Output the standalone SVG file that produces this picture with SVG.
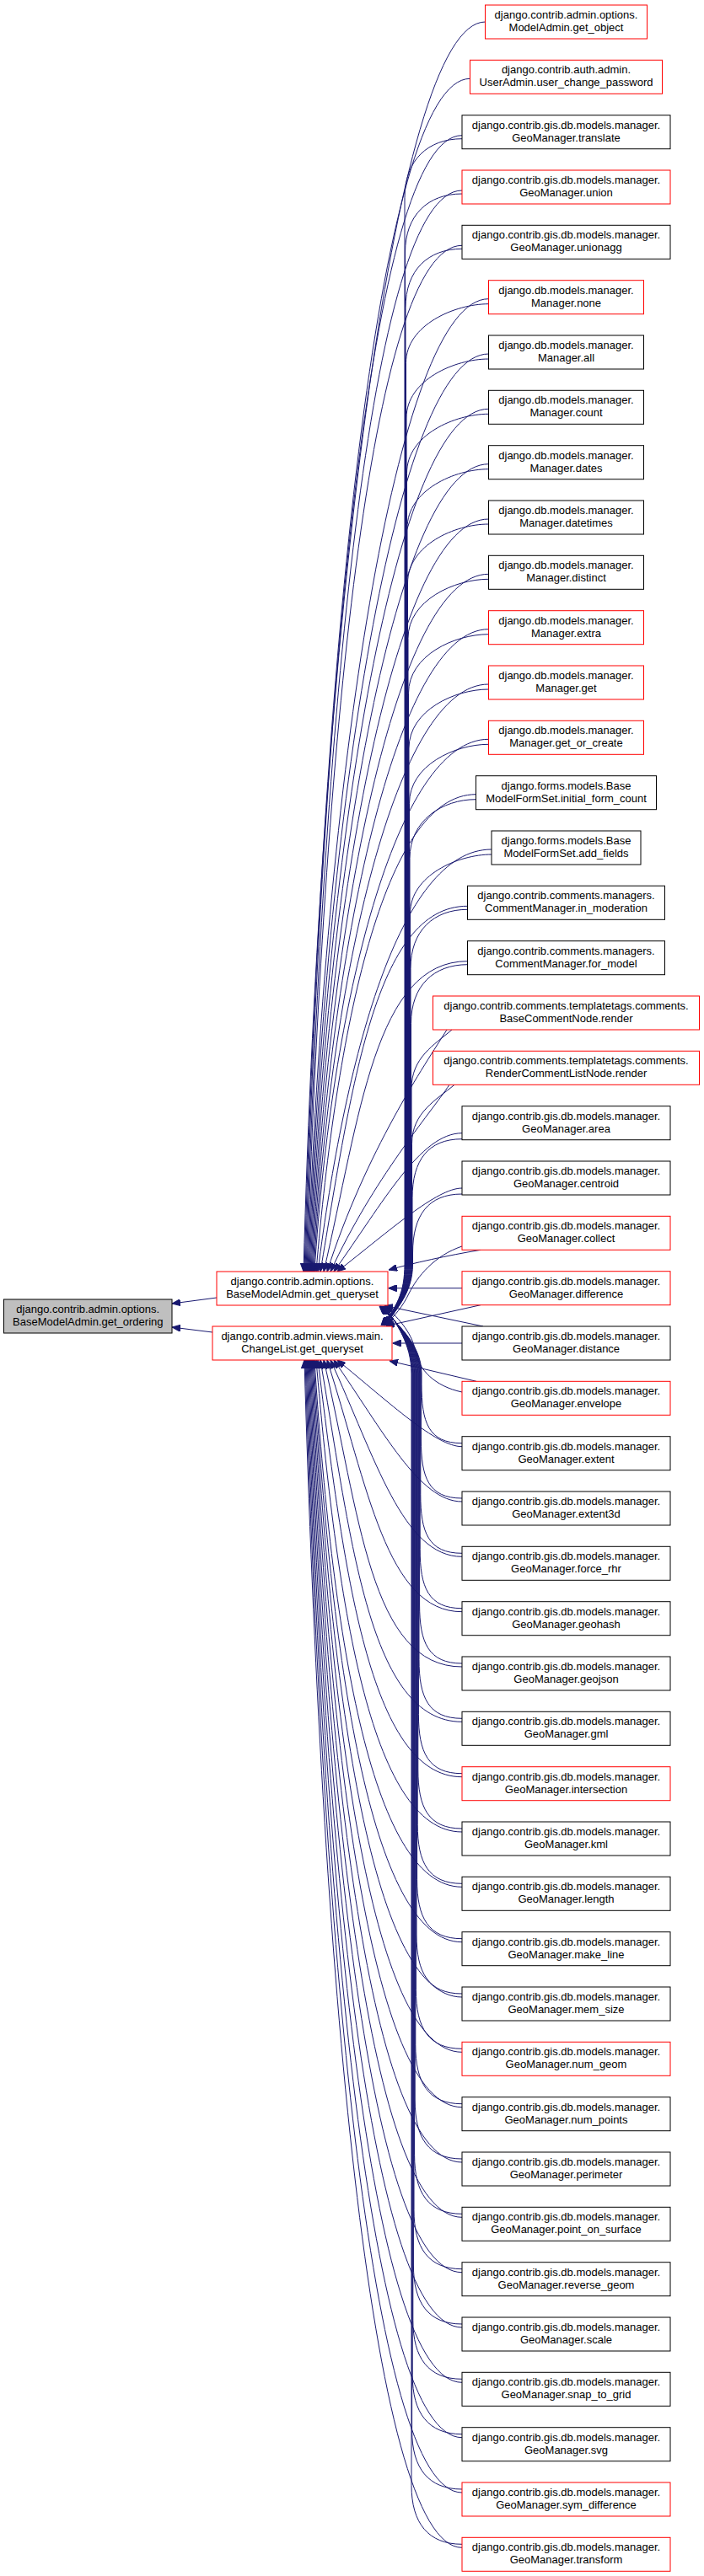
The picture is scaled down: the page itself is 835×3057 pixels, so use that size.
<svg xmlns="http://www.w3.org/2000/svg" width="835" height="3057" viewBox="0 0 835 3057">
<style>
.n rect{fill:#fff;stroke:#000;stroke-width:1}
.r rect{stroke:#ff0000}
.g rect{fill:#bfbfbf;stroke:#000}
text{font-family:"Liberation Sans",Arial,sans-serif;font-size:13px;text-anchor:middle;fill:#000}
.e path{fill:none;stroke:#191970;stroke-width:1;marker-end:url(#ah)}
</style>
<defs>
<marker id="ah" markerWidth="10" markerHeight="8" refX="10" refY="4" orient="auto" markerUnits="userSpaceOnUse"><path d="M0,0 L10,4 L0,8 z" fill="#191970" stroke="#191970" stroke-width="1"/></marker>
</defs>
<rect width="835" height="3057" fill="#fff"/>
<g id="edges" class="e">
<path d="M257,1540 L204,1547"/>
<path d="M252,1581 L204,1575"/>
<path d="M575.5,26 C465.5,26 380,767.5 360,1509"/>
<path d="M557.5,93.3 C447.5,93.3 381,801.2 361,1509"/>
<path d="M548,160.7 C438,160.7 382,834.9 362,1509"/>
<path d="M548,226 C438,226 383,867.5 363,1509"/>
<path d="M548,291.3 C438,291.3 384,900.2 364,1509"/>
<path d="M579.5,354.7 C469.5,354.7 385,931.9 365,1509"/>
<path d="M579.5,420 C469.5,420 386,964.5 366,1509"/>
<path d="M579.5,485.3 C469.5,485.3 387,997.2 367,1509"/>
<path d="M579.5,550.7 C469.5,550.7 388,1029.9 368,1509"/>
<path d="M579.5,616 C469.5,616 389,1062.5 369,1509"/>
<path d="M579.5,681.3 C469.5,681.3 390,1095.2 370,1509"/>
<path d="M579.5,746.7 C469.5,746.7 391,1127.9 371,1509"/>
<path d="M579.5,812 C469.5,812 392,1160.5 372,1509"/>
<path d="M579.5,877.3 C469.5,877.3 393,1193.2 373,1509"/>
<path d="M564.5,942.7 C454.5,942.7 398.7,1225.9 375,1509"/>
<path d="M583,1008 C473,1008 408.9,1258.5 377,1509"/>
<path d="M554.5,1075.3 C444.5,1075.3 416.9,1292.2 380,1509"/>
<path d="M554.5,1140.7 C444.5,1140.7 427,1324.9 384,1509"/>
<path d="M530,1222 C505,1262 433.9,1365.5 388,1509"/>
<path d="M533,1287.3 C510,1322 443.1,1398.2 392,1509"/>
<path d="M548,1344.7 C498.7,1344.7 454.6,1426.9 396,1509"/>
<path d="M548,1410 C518.3,1410 463.3,1459.5 400,1509"/>
<path d="M548,164.7 C508,164.7 480,189.7 480,234.7 L480,1500 C480,1535 470,1552 452,1573"/>
<path d="M548,230 C508,230 480.5,255 480.5,300 L480.5,1500 C480.5,1535 470,1552 452.3,1573"/>
<path d="M548,295.3 C508,295.3 481,320.3 481,365.3 L481,1500 C481,1535 470,1552 452.6,1573"/>
<path d="M579.5,360.7 C539.5,360.7 481.5,385.7 481.5,430.7 L481.5,1500 C481.5,1535 470,1552 452.9,1573"/>
<path d="M579.5,426 C539.5,426 482,451 482,496 L482,1500 C482,1535 470,1552 453.2,1573"/>
<path d="M579.5,491.3 C539.5,491.3 482.5,516.3 482.5,561.3 L482.5,1500 C482.5,1535 470,1552 453.5,1573"/>
<path d="M579.5,556.7 C539.5,556.7 483,581.7 483,626.7 L483,1500 C483,1535 470,1552 453.8,1573"/>
<path d="M579.5,622 C539.5,622 483.5,647 483.5,692 L483.5,1500 C483.5,1535 470,1552 454.1,1573"/>
<path d="M579.5,687.3 C539.5,687.3 484,712.3 484,757.3 L484,1500 C484,1535 470,1552 454.4,1573"/>
<path d="M579.5,752.7 C539.5,752.7 484.5,777.7 484.5,822.7 L484.5,1500 C484.5,1535 470,1552 454.7,1573"/>
<path d="M579.5,818 C539.5,818 485,843 485,888 L485,1500 C485,1535 470,1552 455,1573"/>
<path d="M579.5,883.3 C539.5,883.3 485.5,908.3 485.5,953.3 L485.5,1500 C485.5,1535 470,1552 455.3,1573"/>
<path d="M564.5,948.7 C524.5,948.7 486,973.7 486,1018.7 L486,1500 C486,1535 470,1552 455.6,1573"/>
<path d="M583,1014 C543,1014 486.5,1039 486.5,1084 L486.5,1500 C486.5,1535 470,1552 455.9,1573"/>
<path d="M554.5,1079.3 C514.5,1079.3 487,1104.3 487,1149.3 L487,1500 C487,1535 470,1552 456.2,1573"/>
<path d="M554.5,1144.7 C514.5,1144.7 487.5,1169.7 487.5,1214.7 L487.5,1500 C487.5,1535 470,1552 456.5,1573"/>
<path d="M536,1222 C515,1240 488,1255 488,1292 L488,1500 C488,1535 470,1552 456.8,1573"/>
<path d="M539,1287.3 C518,1305 488.5,1320 488.5,1357.3 L488.5,1500 C488.5,1535 470,1552 457.1,1573"/>
<path d="M548,1351.7 C508,1351.7 489,1376.7 489,1421.7 L489,1500 C489,1535 470,1552 457.4,1573"/>
<path d="M548,1417 C508,1417 489.5,1442 489.5,1487 L489.5,1500 C489.5,1535 470,1552 457.7,1573"/>
<path d="M570,1483.3 C530,1490 490,1499 461,1507"/>
<path d="M548,1479 C515,1490 495,1515 485,1535 C478,1550 468,1562 456,1573"/>
<path d="M548,1528.7 L460.5,1528.7"/>
<path d="M570,1548.7 L458,1573.5"/>
<path d="M573,1574 L456,1549.5"/>
<path d="M548,1594 L465.5,1594"/>
<path d="M565,1639.3 L462,1615"/>
<path d="M548,1652 C515,1645 497,1625 493,1605 C490,1585 475,1565 456,1550"/>
<path d="M548,1716.7 C517.2,1716.7 462.9,1665.4 400,1614"/>
<path d="M548,1782 C497.6,1782 454.3,1698 396,1614"/>
<path d="M548,1847.3 C478,1847.3 445.4,1730.7 392,1614"/>
<path d="M548,1912.7 C458.4,1912.7 436.1,1763.4 388,1614"/>
<path d="M548,1978 C438.8,1978 426.6,1796 384,1614"/>
<path d="M548,2043.3 C438,2043.3 416.7,1828.7 380,1614"/>
<path d="M548,2108.7 C438,2108.7 407.5,1861.4 377,1614"/>
<path d="M548,2174 C438,2174 399,1894 375,1614"/>
<path d="M548,2239.3 C438,2239.3 393,1926.7 373,1614"/>
<path d="M548,2304.7 C438,2304.7 392,1959.4 372,1614"/>
<path d="M548,2370 C438,2370 391,1992 371,1614"/>
<path d="M548,2435.3 C438,2435.3 390,2024.7 370,1614"/>
<path d="M548,2500.7 C438,2500.7 389,2057.4 369,1614"/>
<path d="M548,2566 C438,2566 388,2090 368,1614"/>
<path d="M548,2631.3 C438,2631.3 387,2122.7 367,1614"/>
<path d="M548,2696.7 C438,2696.7 386,2155.4 366,1614"/>
<path d="M548,2762 C438,2762 385,2188 365,1614"/>
<path d="M548,2827.3 C438,2827.3 384,2220.7 364,1614"/>
<path d="M548,2892.7 C438,2892.7 383,2253.4 363,1614"/>
<path d="M548,2958 C438,2958 382,2286 362,1614"/>
<path d="M548,3023.3 C438,3023.3 381,2318.7 361,1614"/>
<path d="M548,1712.7 C508,1712.7 500,1687.7 500,1642.7 L500,1630 C500,1595 470,1570 450,1550"/>
<path d="M548,1778 C508,1778 499.4,1753 499.4,1708 L499.4,1630 C499.4,1595 470,1570 450.3,1550"/>
<path d="M548,1843.3 C508,1843.3 498.8,1818.3 498.8,1773.3 L498.8,1630 C498.8,1595 470,1570 450.6,1550"/>
<path d="M548,1908.7 C508,1908.7 498.2,1883.7 498.2,1838.7 L498.2,1630 C498.2,1595 470,1570 450.9,1550"/>
<path d="M548,1974 C508,1974 497.6,1949 497.6,1904 L497.6,1630 C497.6,1595 470,1570 451.2,1550"/>
<path d="M548,2039.3 C508,2039.3 497,2014.3 497,1969.3 L497,1630 C497,1595 470,1570 451.5,1550"/>
<path d="M548,2104.7 C508,2104.7 496.4,2079.7 496.4,2034.7 L496.4,1630 C496.4,1595 470,1570 451.8,1550"/>
<path d="M548,2170 C508,2170 495.8,2145 495.8,2100 L495.8,1630 C495.8,1595 470,1570 452.1,1550"/>
<path d="M548,2235.3 C508,2235.3 495.2,2210.3 495.2,2165.3 L495.2,1630 C495.2,1595 470,1570 452.4,1550"/>
<path d="M548,2300.7 C508,2300.7 494.6,2275.7 494.6,2230.7 L494.6,1630 C494.6,1595 470,1570 452.7,1550"/>
<path d="M548,2366 C508,2366 494,2341 494,2296 L494,1630 C494,1595 470,1570 453,1550"/>
<path d="M548,2431.3 C508,2431.3 493.4,2406.3 493.4,2361.3 L493.4,1630 C493.4,1595 470,1570 453.3,1550"/>
<path d="M548,2496.7 C508,2496.7 492.8,2471.7 492.8,2426.7 L492.8,1630 C492.8,1595 470,1570 453.6,1550"/>
<path d="M548,2562 C508,2562 492.2,2537 492.2,2492 L492.2,1630 C492.2,1595 470,1570 453.9,1550"/>
<path d="M548,2627.3 C508,2627.3 491.6,2602.3 491.6,2557.3 L491.6,1630 C491.6,1595 470,1570 454.2,1550"/>
<path d="M548,2692.7 C508,2692.7 491,2667.7 491,2622.7 L491,1630 C491,1595 470,1570 454.5,1550"/>
<path d="M548,2758 C508,2758 490.4,2733 490.4,2688 L490.4,1630 C490.4,1595 470,1570 454.8,1550"/>
<path d="M548,2823.3 C508,2823.3 489.8,2798.3 489.8,2753.3 L489.8,1630 C489.8,1595 470,1570 455.1,1550"/>
<path d="M548,2888.7 C508,2888.7 489.2,2863.7 489.2,2818.7 L489.2,1630 C489.2,1595 470,1570 455.4,1550"/>
<path d="M548,2954 C508,2954 488.6,2929 488.6,2884 L488.6,1630 C488.6,1595 470,1570 455.7,1550"/>
<path d="M548,3019.3 C508,3019.3 488,2994.3 488,2949.3 L488,1630 C488,1595 470,1570 456,1550"/>
</g>
<g id="n0" class="n g" transform="translate(4.5,1542)"><rect width="199.5" height="40"/><text x="99.75" y="16">django.contrib.admin.options.</text><text x="99.75" y="31">BaseModelAdmin.get_ordering</text></g>
<g id="q1" class="n r" transform="translate(257,1509)"><rect width="203" height="40"/><text x="101.5" y="16">django.contrib.admin.options.</text><text x="101.5" y="31">BaseModelAdmin.get_queryset</text></g>
<g id="q2" class="n r" transform="translate(252,1574)"><rect width="213" height="40"/><text x="106.5" y="16">django.contrib.admin.views.main.</text><text x="106.5" y="31">ChangeList.get_queryset</text></g>
<g id="n1" class="n r" transform="translate(575.5,6)"><rect width="192" height="40"/><text x="96" y="16">django.contrib.admin.options.</text><text x="96" y="31">ModelAdmin.get_object</text></g>
<g id="n2" class="n r" transform="translate(557.5,71.3)"><rect width="228" height="40"/><text x="114" y="16">django.contrib.auth.admin.</text><text x="114" y="31">UserAdmin.user_change_password</text></g>
<g id="n3" class="n" transform="translate(548,136.7)"><rect width="247" height="40"/><text x="123.5" y="16">django.contrib.gis.db.models.manager.</text><text x="123.5" y="31">GeoManager.translate</text></g>
<g id="n4" class="n r" transform="translate(548,202)"><rect width="247" height="40"/><text x="123.5" y="16">django.contrib.gis.db.models.manager.</text><text x="123.5" y="31">GeoManager.union</text></g>
<g id="n5" class="n" transform="translate(548,267.3)"><rect width="247" height="40"/><text x="123.5" y="16">django.contrib.gis.db.models.manager.</text><text x="123.5" y="31">GeoManager.unionagg</text></g>
<g id="n6" class="n r" transform="translate(579.5,332.7)"><rect width="184" height="40"/><text x="92" y="16">django.db.models.manager.</text><text x="92" y="31">Manager.none</text></g>
<g id="n7" class="n" transform="translate(579.5,398)"><rect width="184" height="40"/><text x="92" y="16">django.db.models.manager.</text><text x="92" y="31">Manager.all</text></g>
<g id="n8" class="n" transform="translate(579.5,463.3)"><rect width="184" height="40"/><text x="92" y="16">django.db.models.manager.</text><text x="92" y="31">Manager.count</text></g>
<g id="n9" class="n" transform="translate(579.5,528.7)"><rect width="184" height="40"/><text x="92" y="16">django.db.models.manager.</text><text x="92" y="31">Manager.dates</text></g>
<g id="n10" class="n" transform="translate(579.5,594)"><rect width="184" height="40"/><text x="92" y="16">django.db.models.manager.</text><text x="92" y="31">Manager.datetimes</text></g>
<g id="n11" class="n" transform="translate(579.5,659.3)"><rect width="184" height="40"/><text x="92" y="16">django.db.models.manager.</text><text x="92" y="31">Manager.distinct</text></g>
<g id="n12" class="n r" transform="translate(579.5,724.7)"><rect width="184" height="40"/><text x="92" y="16">django.db.models.manager.</text><text x="92" y="31">Manager.extra</text></g>
<g id="n13" class="n r" transform="translate(579.5,790)"><rect width="184" height="40"/><text x="92" y="16">django.db.models.manager.</text><text x="92" y="31">Manager.get</text></g>
<g id="n14" class="n r" transform="translate(579.5,855.3)"><rect width="184" height="40"/><text x="92" y="16">django.db.models.manager.</text><text x="92" y="31">Manager.get_or_create</text></g>
<g id="n15" class="n" transform="translate(564.5,920.7)"><rect width="214" height="40"/><text x="107" y="16">django.forms.models.Base</text><text x="107" y="31">ModelFormSet.initial_form_count</text></g>
<g id="n16" class="n" transform="translate(583,986)"><rect width="177" height="40"/><text x="88.5" y="16">django.forms.models.Base</text><text x="88.5" y="31">ModelFormSet.add_fields</text></g>
<g id="n17" class="n" transform="translate(554.5,1051.3)"><rect width="234" height="40"/><text x="117" y="16">django.contrib.comments.managers.</text><text x="117" y="31">CommentManager.in_moderation</text></g>
<g id="n18" class="n" transform="translate(554.5,1116.7)"><rect width="234" height="40"/><text x="117" y="16">django.contrib.comments.managers.</text><text x="117" y="31">CommentManager.for_model</text></g>
<g id="n19" class="n r" transform="translate(513.5,1182)"><rect width="316" height="40"/><text x="158" y="16">django.contrib.comments.templatetags.comments.</text><text x="158" y="31">BaseCommentNode.render</text></g>
<g id="n20" class="n r" transform="translate(513.5,1247.3)"><rect width="316" height="40"/><text x="158" y="16">django.contrib.comments.templatetags.comments.</text><text x="158" y="31">RenderCommentListNode.render</text></g>
<g id="n21" class="n" transform="translate(548,1312.7)"><rect width="247" height="40"/><text x="123.5" y="16">django.contrib.gis.db.models.manager.</text><text x="123.5" y="31">GeoManager.area</text></g>
<g id="n22" class="n" transform="translate(548,1378)"><rect width="247" height="40"/><text x="123.5" y="16">django.contrib.gis.db.models.manager.</text><text x="123.5" y="31">GeoManager.centroid</text></g>
<g id="n23" class="n r" transform="translate(548,1443.3)"><rect width="247" height="40"/><text x="123.5" y="16">django.contrib.gis.db.models.manager.</text><text x="123.5" y="31">GeoManager.collect</text></g>
<g id="n24" class="n r" transform="translate(548,1508.7)"><rect width="247" height="40"/><text x="123.5" y="16">django.contrib.gis.db.models.manager.</text><text x="123.5" y="31">GeoManager.difference</text></g>
<g id="n25" class="n" transform="translate(548,1574)"><rect width="247" height="40"/><text x="123.5" y="16">django.contrib.gis.db.models.manager.</text><text x="123.5" y="31">GeoManager.distance</text></g>
<g id="n26" class="n r" transform="translate(548,1639.3)"><rect width="247" height="40"/><text x="123.5" y="16">django.contrib.gis.db.models.manager.</text><text x="123.5" y="31">GeoManager.envelope</text></g>
<g id="n27" class="n" transform="translate(548,1704.7)"><rect width="247" height="40"/><text x="123.5" y="16">django.contrib.gis.db.models.manager.</text><text x="123.5" y="31">GeoManager.extent</text></g>
<g id="n28" class="n" transform="translate(548,1770)"><rect width="247" height="40"/><text x="123.5" y="16">django.contrib.gis.db.models.manager.</text><text x="123.5" y="31">GeoManager.extent3d</text></g>
<g id="n29" class="n" transform="translate(548,1835.3)"><rect width="247" height="40"/><text x="123.5" y="16">django.contrib.gis.db.models.manager.</text><text x="123.5" y="31">GeoManager.force_rhr</text></g>
<g id="n30" class="n" transform="translate(548,1900.7)"><rect width="247" height="40"/><text x="123.5" y="16">django.contrib.gis.db.models.manager.</text><text x="123.5" y="31">GeoManager.geohash</text></g>
<g id="n31" class="n" transform="translate(548,1966)"><rect width="247" height="40"/><text x="123.5" y="16">django.contrib.gis.db.models.manager.</text><text x="123.5" y="31">GeoManager.geojson</text></g>
<g id="n32" class="n" transform="translate(548,2031.3)"><rect width="247" height="40"/><text x="123.5" y="16">django.contrib.gis.db.models.manager.</text><text x="123.5" y="31">GeoManager.gml</text></g>
<g id="n33" class="n r" transform="translate(548,2096.7)"><rect width="247" height="40"/><text x="123.5" y="16">django.contrib.gis.db.models.manager.</text><text x="123.5" y="31">GeoManager.intersection</text></g>
<g id="n34" class="n" transform="translate(548,2162)"><rect width="247" height="40"/><text x="123.5" y="16">django.contrib.gis.db.models.manager.</text><text x="123.5" y="31">GeoManager.kml</text></g>
<g id="n35" class="n" transform="translate(548,2227.3)"><rect width="247" height="40"/><text x="123.5" y="16">django.contrib.gis.db.models.manager.</text><text x="123.5" y="31">GeoManager.length</text></g>
<g id="n36" class="n" transform="translate(548,2292.7)"><rect width="247" height="40"/><text x="123.5" y="16">django.contrib.gis.db.models.manager.</text><text x="123.5" y="31">GeoManager.make_line</text></g>
<g id="n37" class="n" transform="translate(548,2358)"><rect width="247" height="40"/><text x="123.5" y="16">django.contrib.gis.db.models.manager.</text><text x="123.5" y="31">GeoManager.mem_size</text></g>
<g id="n38" class="n r" transform="translate(548,2423.3)"><rect width="247" height="40"/><text x="123.5" y="16">django.contrib.gis.db.models.manager.</text><text x="123.5" y="31">GeoManager.num_geom</text></g>
<g id="n39" class="n" transform="translate(548,2488.7)"><rect width="247" height="40"/><text x="123.5" y="16">django.contrib.gis.db.models.manager.</text><text x="123.5" y="31">GeoManager.num_points</text></g>
<g id="n40" class="n" transform="translate(548,2554)"><rect width="247" height="40"/><text x="123.5" y="16">django.contrib.gis.db.models.manager.</text><text x="123.5" y="31">GeoManager.perimeter</text></g>
<g id="n41" class="n" transform="translate(548,2619.3)"><rect width="247" height="40"/><text x="123.5" y="16">django.contrib.gis.db.models.manager.</text><text x="123.5" y="31">GeoManager.point_on_surface</text></g>
<g id="n42" class="n" transform="translate(548,2684.7)"><rect width="247" height="40"/><text x="123.5" y="16">django.contrib.gis.db.models.manager.</text><text x="123.5" y="31">GeoManager.reverse_geom</text></g>
<g id="n43" class="n" transform="translate(548,2750)"><rect width="247" height="40"/><text x="123.5" y="16">django.contrib.gis.db.models.manager.</text><text x="123.5" y="31">GeoManager.scale</text></g>
<g id="n44" class="n" transform="translate(548,2815.3)"><rect width="247" height="40"/><text x="123.5" y="16">django.contrib.gis.db.models.manager.</text><text x="123.5" y="31">GeoManager.snap_to_grid</text></g>
<g id="n45" class="n" transform="translate(548,2880.7)"><rect width="247" height="40"/><text x="123.5" y="16">django.contrib.gis.db.models.manager.</text><text x="123.5" y="31">GeoManager.svg</text></g>
<g id="n46" class="n r" transform="translate(548,2946)"><rect width="247" height="40"/><text x="123.5" y="16">django.contrib.gis.db.models.manager.</text><text x="123.5" y="31">GeoManager.sym_difference</text></g>
<g id="n47" class="n r" transform="translate(548,3011.3)"><rect width="247" height="40"/><text x="123.5" y="16">django.contrib.gis.db.models.manager.</text><text x="123.5" y="31">GeoManager.transform</text></g>
</svg>
